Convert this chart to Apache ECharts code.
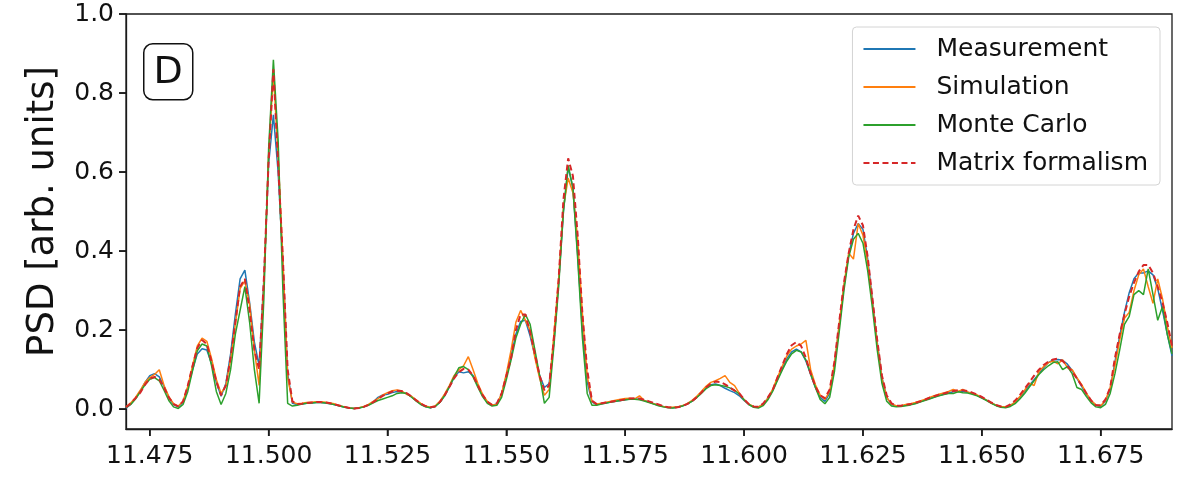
<!DOCTYPE html>
<html>
<head>
<meta charset="utf-8">
<script src="https://cdn.jsdelivr.net/npm/echarts@6/dist/echarts.min.js"></script>
<style>
  html, body { margin: 0; padding: 0; background: #fff; }
  #psdChart { width: 1178px; height: 477px; }
</style>
</head>
<body>
<div id="psdChart"></div>
<script>
// frequency grid (x axis)
var freq = [
  11.470, 11.471, 11.472, 11.473, 11.474, 11.475, 11.476, 11.477, 11.478, 11.479,
  11.480, 11.481, 11.482, 11.483, 11.484, 11.485, 11.486, 11.487, 11.488, 11.489,
  11.490, 11.491, 11.492, 11.493, 11.494, 11.495, 11.496, 11.497, 11.498, 11.499,
  11.500, 11.501, 11.502, 11.503, 11.504, 11.505, 11.506, 11.507, 11.508, 11.509,
  11.510, 11.511, 11.512, 11.513, 11.514, 11.515, 11.516, 11.517, 11.518, 11.519,
  11.520, 11.521, 11.522, 11.523, 11.524, 11.525, 11.526, 11.527, 11.528, 11.529,
  11.530, 11.531, 11.532, 11.533, 11.534, 11.535, 11.536, 11.537, 11.538, 11.539,
  11.540, 11.541, 11.542, 11.543, 11.544, 11.545, 11.546, 11.547, 11.548, 11.549,
  11.550, 11.551, 11.552, 11.553, 11.554, 11.555, 11.556, 11.557, 11.558, 11.559,
  11.560, 11.561, 11.562, 11.563, 11.564, 11.565, 11.566, 11.567, 11.568, 11.569,
  11.570, 11.571, 11.572, 11.573, 11.574, 11.575, 11.576, 11.577, 11.578, 11.579,
  11.580, 11.581, 11.582, 11.583, 11.584, 11.585, 11.586, 11.587, 11.588, 11.589,
  11.590, 11.591, 11.592, 11.593, 11.594, 11.595, 11.596, 11.597, 11.598, 11.599,
  11.600, 11.601, 11.602, 11.603, 11.604, 11.605, 11.606, 11.607, 11.608, 11.609,
  11.610, 11.611, 11.612, 11.613, 11.614, 11.615, 11.616, 11.617, 11.618, 11.619,
  11.620, 11.621, 11.622, 11.623, 11.624, 11.625, 11.626, 11.627, 11.628, 11.629,
  11.630, 11.631, 11.632, 11.633, 11.634, 11.635, 11.636, 11.637, 11.638, 11.639,
  11.640, 11.641, 11.642, 11.643, 11.644, 11.645, 11.646, 11.647, 11.648, 11.649,
  11.650, 11.651, 11.652, 11.653, 11.654, 11.655, 11.656, 11.657, 11.658, 11.659,
  11.660, 11.661, 11.662, 11.663, 11.664, 11.665, 11.666, 11.667, 11.668, 11.669,
  11.670, 11.671, 11.672, 11.673, 11.674, 11.675, 11.676, 11.677, 11.678, 11.679,
  11.680, 11.681, 11.682, 11.683, 11.684, 11.685, 11.686, 11.687, 11.688, 11.689,
  11.690
];

var measurement = [
  0.003, 0.013, 0.028, 0.045, 0.068, 0.085, 0.090, 0.082, 0.058, 0.030,
  0.012, 0.006, 0.018, 0.055, 0.100, 0.140, 0.153, 0.150, 0.115, 0.068,
  0.033, 0.065, 0.140, 0.240, 0.330, 0.352, 0.270, 0.170, 0.110, 0.330,
  0.620, 0.745, 0.600, 0.370, 0.090, 0.015, 0.012, 0.013, 0.015, 0.016,
  0.017, 0.017, 0.016, 0.014, 0.011, 0.008, 0.005, 0.003, 0.002, 0.003,
  0.006, 0.011, 0.018, 0.030, 0.036, 0.038, 0.042, 0.045, 0.044, 0.040,
  0.032, 0.022, 0.013, 0.007, 0.004, 0.007, 0.017, 0.034, 0.056, 0.080,
  0.095, 0.092, 0.095, 0.085, 0.060, 0.035, 0.018, 0.010, 0.013, 0.038,
  0.085, 0.135, 0.190, 0.222, 0.225, 0.185, 0.135, 0.085, 0.055, 0.065,
  0.170, 0.320, 0.500, 0.612, 0.560, 0.390, 0.200, 0.070, 0.018, 0.012,
  0.014, 0.016, 0.018, 0.020, 0.022, 0.024, 0.026, 0.026, 0.025, 0.022,
  0.018, 0.014, 0.010, 0.007, 0.005, 0.004, 0.005, 0.008, 0.013, 0.020,
  0.030, 0.042, 0.054, 0.062, 0.064, 0.060, 0.053, 0.047, 0.042, 0.034,
  0.022, 0.012, 0.006, 0.005, 0.012, 0.028, 0.048, 0.075, 0.102, 0.128,
  0.145, 0.152, 0.145, 0.122, 0.088, 0.055, 0.030, 0.020, 0.040, 0.110,
  0.210, 0.310, 0.390, 0.445, 0.470, 0.455, 0.380, 0.275, 0.170, 0.080,
  0.030, 0.012, 0.008, 0.008, 0.010, 0.012, 0.015, 0.019, 0.023, 0.027,
  0.031, 0.035, 0.038, 0.041, 0.044, 0.045, 0.045, 0.043, 0.040, 0.035,
  0.029, 0.023, 0.016, 0.010, 0.006, 0.005, 0.009, 0.018, 0.030, 0.045,
  0.060, 0.075, 0.090, 0.105, 0.118, 0.125, 0.126, 0.124, 0.114, 0.098,
  0.078, 0.058, 0.038, 0.021, 0.010, 0.007, 0.020, 0.050, 0.120, 0.185,
  0.245, 0.295, 0.330, 0.345, 0.345, 0.350, 0.340, 0.305, 0.250, 0.190,
  0.135
];

var simulation = [
  0.006, 0.016, 0.030, 0.048, 0.068, 0.080, 0.088, 0.100, 0.060, 0.032,
  0.014, 0.008, 0.020, 0.058, 0.110, 0.160, 0.180, 0.172, 0.128, 0.075,
  0.040, 0.060, 0.125, 0.215, 0.305, 0.325, 0.265, 0.150, 0.060, 0.320,
  0.640, 0.850, 0.640, 0.380, 0.080, 0.018, 0.014, 0.015, 0.017, 0.018,
  0.019, 0.019, 0.018, 0.016, 0.013, 0.009, 0.006, 0.003, 0.002, 0.004,
  0.007, 0.012, 0.020, 0.027, 0.036, 0.042, 0.047, 0.049, 0.046, 0.038,
  0.033, 0.024, 0.015, 0.008, 0.005, 0.008, 0.020, 0.038, 0.060, 0.085,
  0.100, 0.110, 0.133, 0.100, 0.065, 0.038, 0.020, 0.011, 0.012, 0.040,
  0.090, 0.150, 0.220, 0.250, 0.225, 0.200, 0.130, 0.078, 0.035, 0.050,
  0.190, 0.330, 0.510, 0.585, 0.548, 0.430, 0.240, 0.085, 0.020, 0.013,
  0.015, 0.018, 0.020, 0.023, 0.025, 0.027, 0.028, 0.026, 0.034, 0.022,
  0.018, 0.014, 0.010, 0.007, 0.005, 0.005, 0.006, 0.009, 0.014, 0.022,
  0.032, 0.045, 0.058, 0.068, 0.072, 0.078, 0.085, 0.068, 0.060, 0.040,
  0.024, 0.013, 0.007, 0.006, 0.012, 0.028, 0.050, 0.080, 0.108, 0.135,
  0.152, 0.160, 0.165, 0.174, 0.100, 0.062, 0.036, 0.025, 0.045, 0.115,
  0.215, 0.315, 0.395, 0.380, 0.470, 0.440, 0.370, 0.270, 0.165, 0.078,
  0.030, 0.013, 0.009, 0.009, 0.012, 0.014, 0.017, 0.021, 0.025, 0.030,
  0.034, 0.038, 0.041, 0.045, 0.050, 0.045, 0.050, 0.044, 0.040, 0.036,
  0.030, 0.023, 0.016, 0.010, 0.007, 0.006, 0.010, 0.018, 0.032, 0.048,
  0.066, 0.060, 0.095, 0.108, 0.118, 0.122, 0.115, 0.125, 0.105, 0.100,
  0.080, 0.062, 0.040, 0.022, 0.011, 0.009, 0.022, 0.055, 0.110, 0.175,
  0.230, 0.245, 0.300, 0.340, 0.355, 0.310, 0.268, 0.330, 0.280, 0.210,
  0.155
];

var monteCarlo = [
  0.004, 0.012, 0.026, 0.044, 0.062, 0.076, 0.080, 0.072, 0.048, 0.022,
  0.006, 0.002, 0.012, 0.045, 0.098, 0.148, 0.165, 0.160, 0.110, 0.045,
  0.012, 0.040, 0.100, 0.190, 0.250, 0.310, 0.220, 0.100, 0.015, 0.280,
  0.660, 0.884, 0.680, 0.300, 0.015, 0.008, 0.010, 0.013, 0.015, 0.016,
  0.017, 0.017, 0.016, 0.014, 0.011, 0.008, 0.005, 0.003, 0.002, 0.003,
  0.006, 0.010, 0.016, 0.022, 0.026, 0.030, 0.034, 0.040, 0.042, 0.040,
  0.031, 0.021, 0.012, 0.006, 0.004, 0.007, 0.017, 0.034, 0.057, 0.082,
  0.105, 0.108, 0.100, 0.082, 0.056, 0.032, 0.015, 0.008, 0.010, 0.030,
  0.075, 0.125, 0.180, 0.215, 0.240, 0.215, 0.150, 0.085, 0.015, 0.030,
  0.160, 0.310, 0.500, 0.617, 0.560, 0.380, 0.180, 0.040, 0.010, 0.010,
  0.013, 0.016, 0.018, 0.020, 0.022, 0.024, 0.025, 0.025, 0.024, 0.021,
  0.017, 0.013, 0.009, 0.006, 0.004, 0.003, 0.005, 0.008, 0.013, 0.020,
  0.029, 0.040, 0.052, 0.060, 0.062, 0.060, 0.058, 0.054, 0.048, 0.038,
  0.024, 0.012, 0.005, 0.003, 0.009, 0.024, 0.045, 0.072, 0.098, 0.122,
  0.140, 0.149, 0.145, 0.125, 0.090, 0.055, 0.025, 0.014, 0.030, 0.095,
  0.195, 0.300, 0.385, 0.430, 0.445, 0.420, 0.350, 0.255, 0.150, 0.065,
  0.020, 0.008, 0.006, 0.007, 0.009, 0.011, 0.014, 0.018, 0.022, 0.026,
  0.030, 0.034, 0.037, 0.040, 0.040, 0.044, 0.042, 0.041, 0.038, 0.034,
  0.028, 0.022, 0.015, 0.009, 0.005, 0.004, 0.007, 0.014, 0.026, 0.040,
  0.056, 0.072, 0.088, 0.100, 0.110, 0.118, 0.120, 0.100, 0.108, 0.090,
  0.055, 0.050, 0.032, 0.016, 0.006, 0.004, 0.012, 0.040, 0.090, 0.150,
  0.215, 0.235, 0.290, 0.300, 0.290, 0.355, 0.290, 0.225, 0.260, 0.190,
  0.140
];

var matrixFormalism = [
  0.005, 0.015, 0.028, 0.042, 0.062, 0.077, 0.082, 0.075, 0.055, 0.030,
  0.013, 0.007, 0.020, 0.060, 0.110, 0.155, 0.175, 0.165, 0.120, 0.070,
  0.035, 0.060, 0.130, 0.220, 0.310, 0.330, 0.250, 0.150, 0.100, 0.330,
  0.630, 0.860, 0.620, 0.380, 0.100, 0.020, 0.013, 0.014, 0.016, 0.017,
  0.018, 0.018, 0.017, 0.015, 0.012, 0.009, 0.006, 0.003, 0.002, 0.003,
  0.006, 0.011, 0.018, 0.026, 0.034, 0.040, 0.045, 0.047, 0.046, 0.041,
  0.033, 0.023, 0.014, 0.008, 0.005, 0.007, 0.018, 0.035, 0.056, 0.078,
  0.094, 0.102, 0.100, 0.085, 0.060, 0.036, 0.019, 0.011, 0.015, 0.040,
  0.085, 0.130, 0.200, 0.240, 0.240, 0.195, 0.140, 0.085, 0.048, 0.060,
  0.180, 0.330, 0.530, 0.635, 0.590, 0.440, 0.240, 0.100, 0.022, 0.013,
  0.015, 0.017, 0.019, 0.021, 0.023, 0.025, 0.027, 0.028, 0.027, 0.024,
  0.020, 0.016, 0.012, 0.008, 0.005, 0.004, 0.005, 0.008, 0.013, 0.020,
  0.030, 0.042, 0.055, 0.065, 0.070, 0.069, 0.063, 0.055, 0.047, 0.040,
  0.025, 0.013, 0.007, 0.006, 0.014, 0.030, 0.048, 0.080, 0.110, 0.140,
  0.162, 0.170, 0.160, 0.130, 0.090, 0.058, 0.035, 0.028, 0.050, 0.120,
  0.220, 0.320, 0.395, 0.455, 0.490, 0.465, 0.385, 0.280, 0.175, 0.085,
  0.035, 0.015, 0.009, 0.009, 0.011, 0.013, 0.016, 0.020, 0.024, 0.029,
  0.033, 0.037, 0.040, 0.043, 0.046, 0.048, 0.048, 0.046, 0.042, 0.037,
  0.031, 0.024, 0.017, 0.011, 0.007, 0.006, 0.012, 0.022, 0.036, 0.052,
  0.068, 0.085, 0.100, 0.112, 0.120, 0.126, 0.128, 0.122, 0.110, 0.095,
  0.078, 0.060, 0.040, 0.022, 0.010, 0.010, 0.025, 0.055, 0.130, 0.190,
  0.240, 0.285, 0.320, 0.348, 0.365, 0.365, 0.345, 0.310, 0.270, 0.220,
  0.160
];

var xTicks = [11.475, 11.500, 11.525, 11.550, 11.575, 11.600, 11.625, 11.650, 11.675];
var yTicks = [0.0, 0.2, 0.4, 0.6, 0.8, 1.0];

var seriesNames = ['Measurement', 'Simulation', 'Monte Carlo', 'Matrix formalism'];
var seriesColors = ['#1f77b4', '#ff7f0e', '#2ca02c', '#d62728'];
var seriesValues = [measurement, simulation, monteCarlo, matrixFormalism];

var xMin = 11.47, xMax = 11.69;
var yMin = -0.05, yMax = 1.0;

function pairs(values) {
    return freq.map(function (f, i) { return [f, values[i]]; });
}

var fontFamily = '"DejaVu Sans", sans-serif';
var axisColor = '#1a1a1a';
var tickLen = 7;

var series = seriesNames.map(function (name, k) {
    return {
        name: name,
        type: 'line',
        symbol: 'none',
        showSymbol: false,
        silent: true,
        data: pairs(seriesValues[k]),
        lineStyle: {
            color: seriesColors[k],
            width: k === 3 ? 2 : 1.5,
            type: k === 3 ? [6, 3.5] : 'solid'
        },
        itemStyle: { color: seriesColors[k] }
    };
});

var option = {
    backgroundColor: '#fff',
    animation: false,
    textStyle: { fontFamily: fontFamily },
    grid: {
        left: 126,
        right: 6,
        top: 14,
        bottom: 48,
        show: true,
        borderColor: axisColor,
        borderWidth: 1.3,
        backgroundColor: 'transparent'
    },
    legend: {
        data: seriesNames,
        orient: 'vertical',
        right: 18,
        top: 27,
        padding: [9, 12, 9, 10],
        itemGap: 12,
        itemWidth: 52,
        itemHeight: 14,
        backgroundColor: '#fff',
        borderColor: '#d4d4d4',
        borderWidth: 1,
        borderRadius: 4,
        itemStyle: { opacity: 0 },
        textStyle: {
            fontFamily: fontFamily,
            fontSize: 25,
            color: '#111',
            lineHeight: 26,
            padding: [0, 0, 0, 16]
        }
    },
    xAxis: {
        type: 'value',
        min: xMin,
        max: xMax,
        axisLine: { show: true, onZero: false, lineStyle: { color: axisColor, width: 1.3 } },
        splitLine: { show: false },
        axisTick: {
            show: true,
            customValues: xTicks,
            length: tickLen,
            lineStyle: { color: axisColor, width: 1.5 }
        },
        axisLabel: {
            customValues: xTicks,
            margin: 15,
            fontSize: 25,
            color: '#111',
            fontFamily: fontFamily,
            formatter: function (v) { return v.toFixed(3); }
        }
    },
    yAxis: {
        type: 'value',
        min: yMin,
        max: yMax,
        name: 'PSD [arb. units]',
        nameLocation: 'middle',
        nameGap: 64,
        nameTextStyle: {
            fontSize: 37,
            color: '#111',
            fontFamily: fontFamily,
            padding: [0, 0, 0, 20]
        },
        axisLine: { show: true, onZero: false, lineStyle: { color: axisColor, width: 1.3 } },
        splitLine: { show: false },
        axisTick: {
            show: true,
            customValues: yTicks,
            length: tickLen,
            lineStyle: { color: axisColor, width: 1.5 }
        },
        axisLabel: {
            customValues: yTicks,
            margin: 12,
            fontSize: 25,
            color: '#111',
            fontFamily: fontFamily,
            formatter: function (v) { return v.toFixed(1); }
        }
    },
    graphic: [{
        type: 'group',
        left: 143,
        top: 43,
        children: [{
            type: 'rect',
            shape: { x: 0, y: 0, width: 49, height: 56, r: 9 },
            style: { fill: '#fff', stroke: '#111', lineWidth: 1.5 }
        }, {
            type: 'text',
            x: 24.5,
            y: 29,
            style: {
                text: 'D',
                fontSize: 38,
                fontFamily: fontFamily,
                fill: '#111',
                align: 'center',
                verticalAlign: 'middle'
            }
        }]
    }],
    series: series
};

var myChart = echarts.init(document.getElementById('psdChart'));
myChart.setOption(option);

// outward tick marks drawn from the tick arrays through the chart's own scales
var tickMarks = [];
xTicks.forEach(function (v) {
    var p = myChart.convertToPixel({ gridIndex: 0 }, [v, yMin]);
    tickMarks.push({
        type: 'line', silent: true, z: 10,
        shape: { x1: p[0], y1: p[1], x2: p[0], y2: p[1] + tickLen },
        style: { stroke: axisColor, lineWidth: 1.5 }
    });
});
yTicks.forEach(function (v) {
    var p = myChart.convertToPixel({ gridIndex: 0 }, [xMin, v]);
    tickMarks.push({
        type: 'line', silent: true, z: 10,
        shape: { x1: p[0], y1: p[1], x2: p[0] - tickLen, y2: p[1] },
        style: { stroke: axisColor, lineWidth: 1.5 }
    });
});
myChart.setOption({ graphic: option.graphic.concat(tickMarks) });
</script>
</body>
</html>
